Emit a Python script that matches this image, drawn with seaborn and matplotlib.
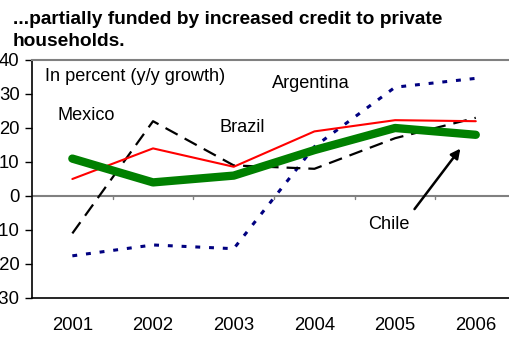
import matplotlib
matplotlib.use("Agg")
import matplotlib.pyplot as plt
import seaborn as sns
import pandas as pd

years = ["2001", "2002", "2003", "2004", "2005", "2006"]
mexico = [-11, 22, 9, 8, 17, 23]
brazil = [5, 14, 8.6, 19, 22.3, 22]
argentina = [-17.6, -14.4, -15.5, 14.5, 32, 34.6]
chile = [11, 4, 6, 13.5, 20, 18]

y_ticks = [-30, -20, -10, 0, 10, 20, 30, 40]
title_lines = ["...partially funded by increased credit to private",
               "households."]

sns.set_theme(style="white")
plt.rcParams["font.family"] = ["Liberation Sans", "DejaVu Sans"]
plt.rcParams["text.color"] = "black"

fig = plt.figure(figsize=(5.10, 3.37), dpi=100)
ax = fig.add_axes([32 / 510, 1 - 298 / 337, 1.012 - 32 / 510, (298 - 60) / 337])

pos = list(range(len(years)))
df = pd.DataFrame({"x": pos, "Mexico": mexico, "Brazil": brazil,
                   "Argentina": argentina, "Chile": chile})

sns.lineplot(data=df, x="x", y="Argentina", ax=ax, color="#000080",
             linewidth=2.2, zorder=3)
ax.lines[-1].set_dashes([1.6, 2.9])
sns.lineplot(data=df, x="x", y="Mexico", ax=ax, color="black",
             linewidth=1.6, zorder=4)
ax.lines[-1].set_dashes([6.2, 3.6])
sns.lineplot(data=df, x="x", y="Brazil", ax=ax, color="#ff0000",
             linewidth=1.5, zorder=5)
sns.lineplot(data=df, x="x", y="Chile", ax=ax, color="#008000",
             linewidth=6, solid_capstyle="round", zorder=6)

ax.set_xlim(-0.5, 5.5)
ax.set_ylim(-30, 40)
ax.set_xticks(pos)
ax.set_xticklabels(years)
ax.set_yticks(y_ticks)
ax.set_yticklabels([str(v) for v in y_ticks])
ax.set_xlabel("")
ax.set_ylabel("")
ax.tick_params(axis="x", length=0, pad=14, labelsize=13.3, colors="black")
ax.tick_params(axis="y", length=5, width=1, pad=4, labelsize=13.3,
               colors="black", left=True, direction="out")

# zero line with category boundary marks
ax.axhline(0, color="#808080", linewidth=1.5, zorder=2)
for b in [0.5, 1.5, 2.5, 3.5, 4.5]:
    ax.plot([b, b], [0, -0.9], color="#808080", linewidth=1, zorder=2)

for side in ["left", "bottom"]:
    ax.spines[side].set_color("black")
    ax.spines[side].set_linewidth(1.2)
ax.spines["top"].set_color("#808080")
ax.spines["top"].set_linewidth(1.5)
ax.spines["right"].set_visible(False)

fs = 13.1
ax.text(-0.34, 35.2, "In percent (y/y growth)", fontsize=fs, va="center")
ax.text(-0.19, 23.7, "Mexico", fontsize=fs, va="center")
ax.text(1.83, 20.2, "Brazil", fontsize=fs, va="center")
ax.text(2.47, 33.1, "Argentina", fontsize=fs, va="center")
ax.text(3.66, -8.3, "Chile", fontsize=fs, va="center")
ax.annotate("", xy=(4.83, 14.6), xytext=(4.22, -4.5),
            arrowprops=dict(arrowstyle="-|>", color="black", lw=1.8,
                            mutation_scale=14))

for i, line in enumerate(title_lines):
    fig.text(13 / 510, 1 - (24 + 22 * i) / 337, line, color="black",
             fontsize=13.8, fontweight="bold", va="baseline", ha="left")

fig.savefig("out.png", dpi=100)
